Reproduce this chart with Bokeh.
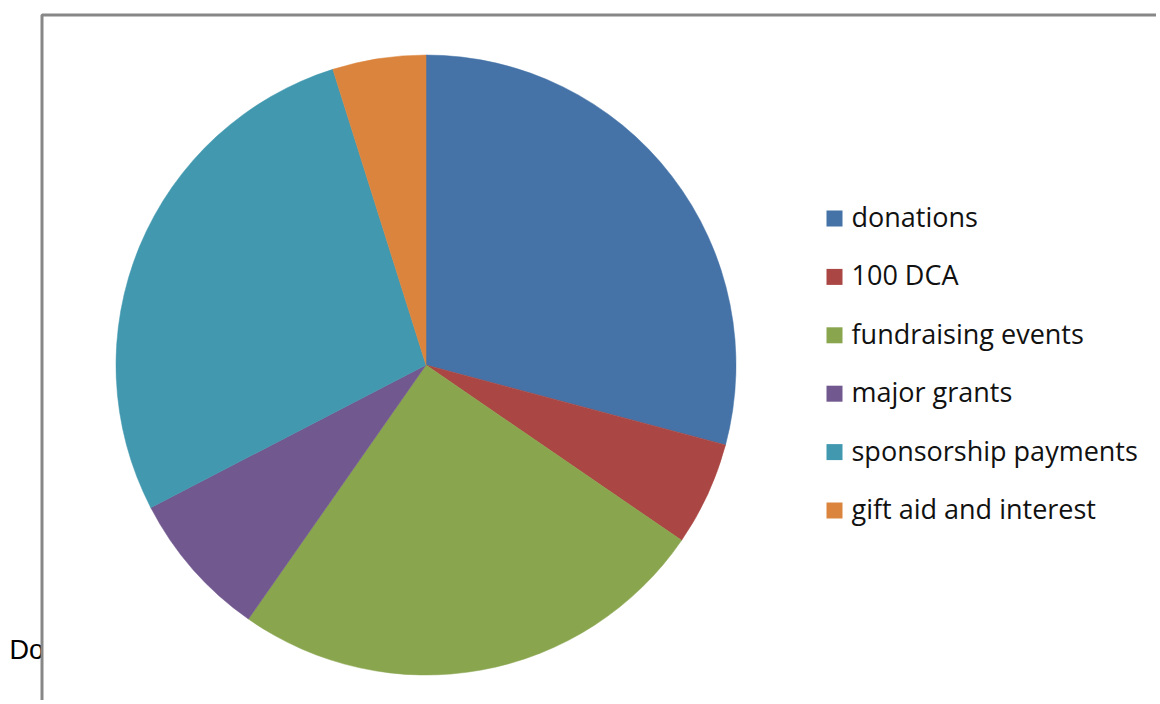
import numpy as np
from bokeh.plotting import figure
from bokeh.models import Range1d, ColumnDataSource
from bokeh.core.properties import value
from bokeh.embed import file_html
from bokeh.resources import INLINE

# ---- data ----
categories = ["donations", "100 DCA", "fundraising events", "major grants",
              "sponsorship payments", "gift aid and interest"]
shares = [29.15, 5.42, 25.14, 7.68, 27.75, 4.86]
colors = ["#4572A7", "#AA4643", "#89A54E", "#71588F", "#4198AF", "#DB843D"]
side_label = "Do"

# ---- layout (page pixels -> data units) ----
W, H = 1156, 700
def sx(x):
    return x
def sy(y):
    return H - y

p = figure(width=W, height=H, x_range=Range1d(0, W), y_range=Range1d(0, H),
           output_backend="svg", toolbar_location=None, min_border=0)
p.axis.visible = False
p.grid.visible = False
p.outline_line_color = None
p.background_fill_color = "white"
p.border_fill_color = "white"

# text partly hidden behind the chart area
p.text(x=[sx(9)], y=[sy(649)], text=[side_label], text_font=value("Liberation Sans"),
       text_font_size="27px", text_color="#000000", text_baseline="alphabetic")

# chart area frame
p.quad(left=[sx(41.5)], right=[W + 100], top=[sy(14.5)], bottom=[-100],
       fill_color="white", line_color="#878787", line_width=3)

# pie
vals = np.array(shares, dtype=float)
frac = vals / vals.sum()
cum = np.concatenate([[0.0], np.cumsum(frac)])
start = np.pi / 2 - 2 * np.pi * cum[:-1]
end = np.pi / 2 - 2 * np.pi * cum[1:]
src = ColumnDataSource(dict(start=start, end=end, color=colors, cat=categories))
p.wedge(x=sx(425.5), y=sy(364.5), radius=310, radius_units="screen",
        start_angle="start", end_angle="end", direction="clock",
        fill_color="color", line_color="color", line_width=0.5, source=src)

# legend
n = len(categories)
ly = [sy(218 + i * 58.4) for i in range(n)]
p.scatter(x=[sx(834)] * n, y=ly, marker="square", size=16,
          fill_color=colors, line_color=None)
p.text(x=[sx(851)] * n, y=[v + 2 for v in ly], text=categories,
       text_font=value("Open Sans"), text_font_size="27px", text_color="#111111",
       text_baseline="alphabetic")

open("out.html", "w").write(file_html(p, INLINE))
